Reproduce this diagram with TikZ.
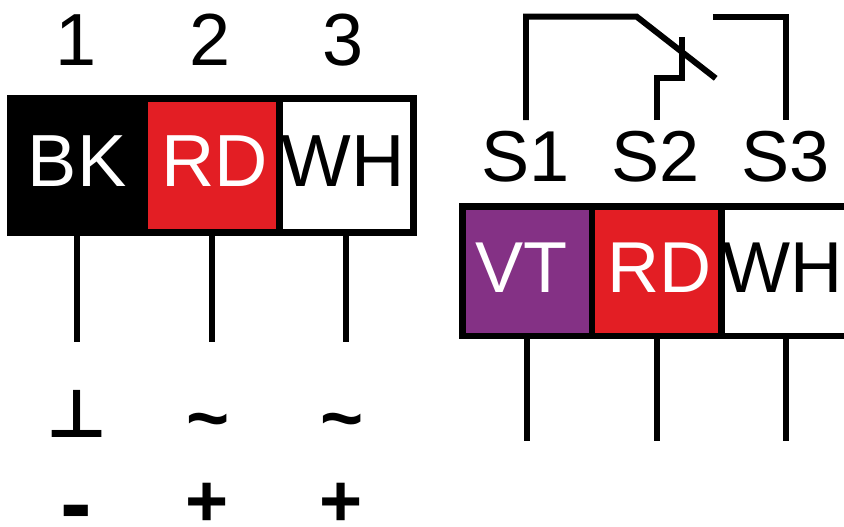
\documentclass[tikz,border=0pt]{standalone}
\usepackage{fontspec}
\setmainfont{Liberation Sans}
\newfontfamily\symfont{DejaVu Sans}
\definecolor{wirered}{HTML}{E31E24}
\definecolor{wireviolet}{HTML}{843185}
\tikzset{
    wire/.style={line width=1.7pt},
    cell/.style={draw=black,line width=1.85pt,inner sep=0pt,outer sep=0pt},
    tagleft/.style={inner sep=0pt,font=\fontsize{21}{21}\selectfont},
    tagright/.style={inner sep=0pt,font=\fontsize{20.5}{21}\selectfont},
    sign/.style={inner sep=0pt,font=\fontsize{21}{21}\selectfont\bfseries}
}
\begin{document}
\begin{tikzpicture}[x=0.01cm,y=-0.01cm]
    \useasboundingbox (0,0) rectangle (844,526);
    % left connector
    \node[tagleft] (n1) at (76,40) {1};
    \node[tagleft] (n2) at (210,40) {2};
    \node[tagleft] (n3) at (343,40) {3};
    \node[cell,fill=black,minimum width=1.344cm,minimum height=1.344cm] (cbk) at (77.5,165.5) {};
    \node[cell,fill=wirered,minimum width=1.348cm,minimum height=1.344cm] (crd) at (212,165.5) {};
    \node[cell,fill=white,minimum width=1.342cm,minimum height=1.344cm] (cwh) at (346.6,165.5) {};
    \node[tagleft,text=white] (bk) at (77,161.5) {BK};
    \node[tagleft,text=white] (rd) at (215,161.5) {RD};
    \node[tagleft] (wh) at (343,161.5) {WH};
    \foreach \c/\x/\s in {cbk/77.3/p1,crd/212/p2,cwh/346.3/p3} {
        \coordinate (\s) at (\x,342);
        \draw[wire] (\c.south -| \s) -- (\s);
    }
    \node[sign,font=\fontsize{19}{19}\selectfont\symfont\bfseries] (gnd) at (77,414) {⊥};
    \node[sign] (ac1) at (208,428) {\char`~};
    \node[sign] (ac2) at (342,428) {\char`~};
    \node[sign,font=\fontsize{27}{27}\selectfont\bfseries] (minus) at (76.5,520) {-};
    \node[sign] (plus1) at (207.5,505) {+};
    \node[sign] (plus2) at (341.5,505) {+};
    % right connector
    \node[tagright] (s1) at (526,157) {S1};
    \node[tagright] (s2) at (656,157) {S2};
    \node[tagright] (s3) at (786,157) {S3};
    \node[cell,fill=wireviolet,minimum width=1.295cm,minimum height=1.295cm] (cvt) at (527.25,271.25) {};
    \node[cell,fill=wirered,minimum width=1.297cm,minimum height=1.295cm] (crdb) at (656.85,271.25) {};
    \node[cell,fill=white,minimum width=1.298cm,minimum height=1.295cm] (cwhb) at (786.6,271.25) {};
    \node[tagright,text=white] (vt) at (521.5,268) {VT};
    \node[tagright,text=white] (rdb) at (659.5,268) {RD};
    \node[tagright] (whb) at (783,268) {WH};
    \foreach \c/\x/\s in {cvt/527.2/q1,crdb/656.7/q2,cwhb/786.2/q3} {
        \coordinate (\s) at (\x,441);
        \draw[wire] (\c.south -| \s) -- (\s);
    }
    % switch
    \coordinate (t1) at (526,120);
    \coordinate (t2) at (656.7,120);
    \coordinate (t3) at (786,120);
    \coordinate (c1) at (526,16.5);
    \coordinate (c2) at (636.5,16.5);
    \coordinate (c3) at (715.7,78.3);
    \coordinate (c4) at (656.7,78);
    \coordinate (c5) at (681.7,78);
    \coordinate (c6) at (681.7,37);
    \coordinate (c7) at (713,16.5);
    \coordinate (c8) at (786,16.5);
    \draw[wire] (t1) -- (c1) -- (c2) -- (c3);
    \draw[wire] (t2) -- (c4) -- (c5) -- (c6);
    \draw[wire] (c7) -- (c8) -- (t3);
\end{tikzpicture}
\end{document}
